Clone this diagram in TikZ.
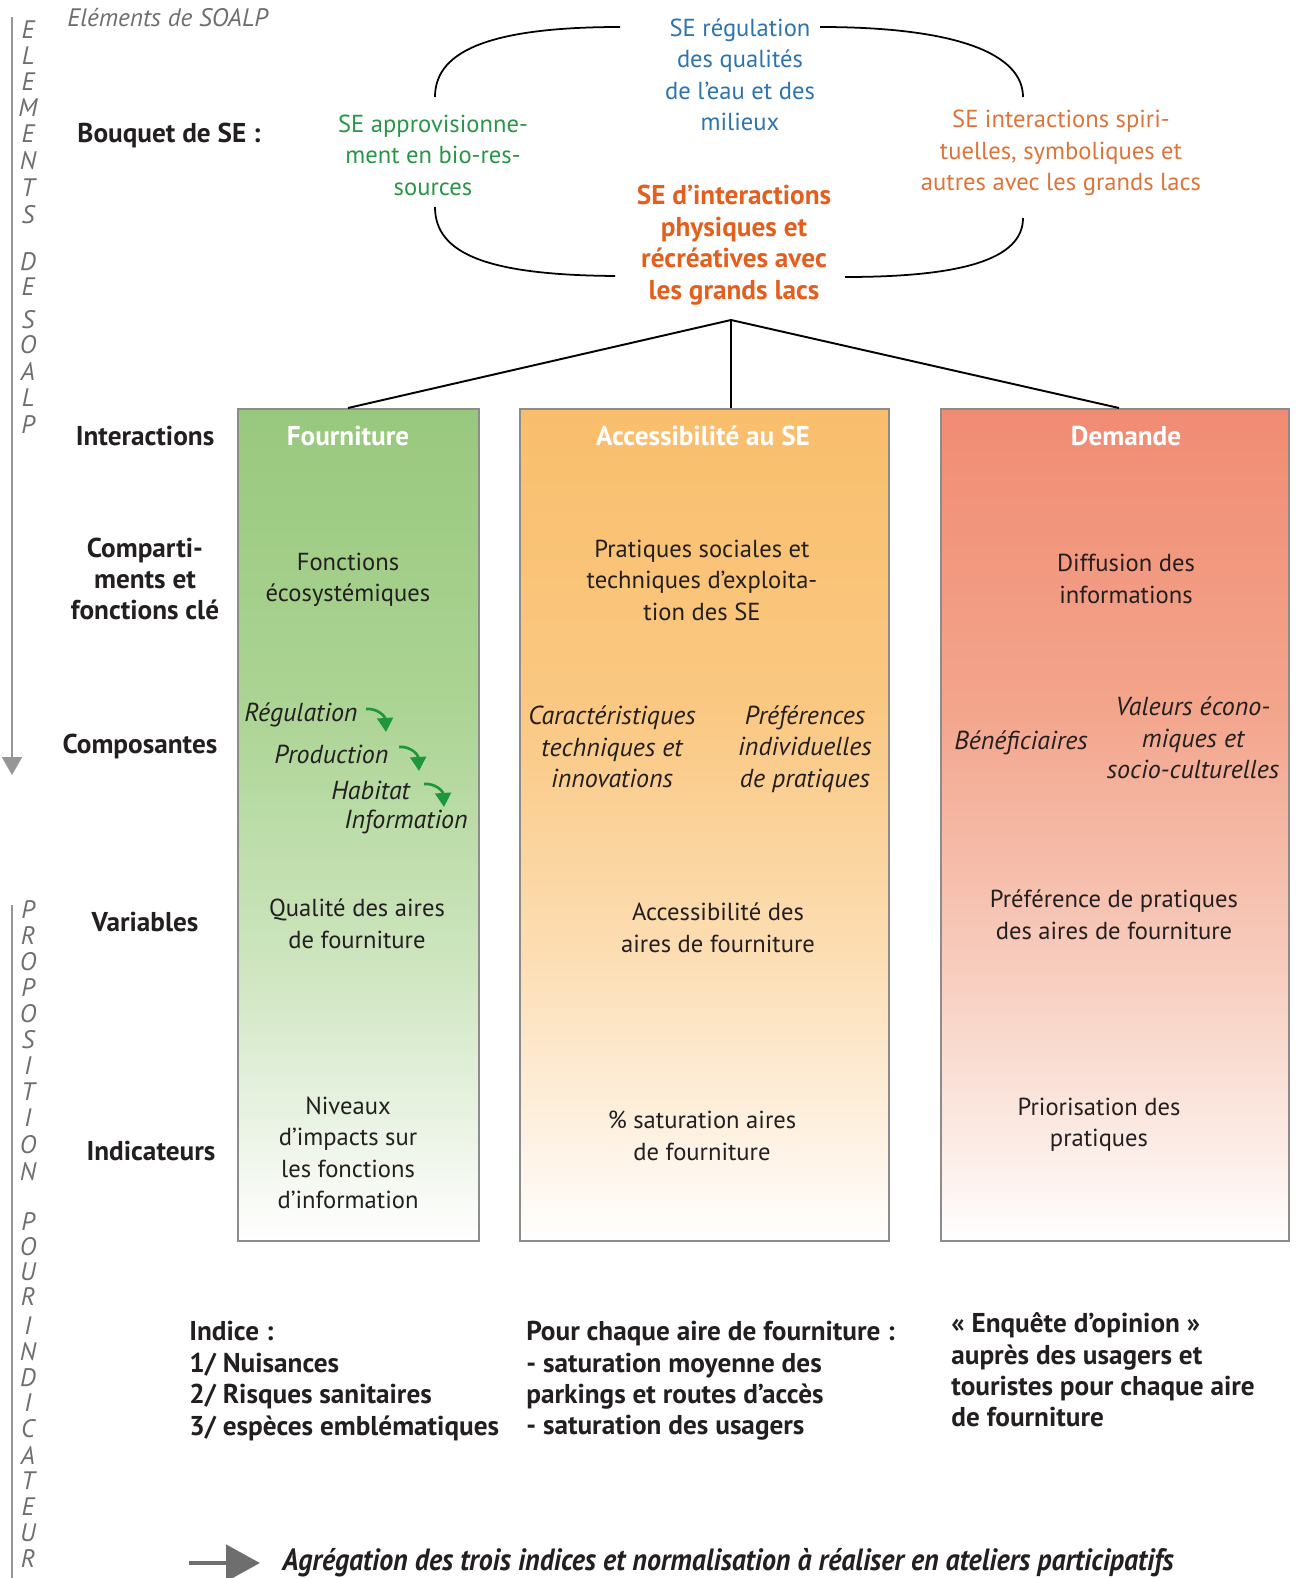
\documentclass[tikz,border=0pt]{standalone}
\usepackage{fontspec}
\setmainfont{PT Sans}
\usepackage{graphicx}
\usetikzlibrary{arrows.meta}
\definecolor{txt}{RGB}{35,31,32}
\definecolor{vgray}{RGB}{110,110,110}
\definecolor{lgray}{RGB}{150,150,150}
\definecolor{boxline}{RGB}{140,140,140}
\definecolor{segreen}{RGB}{40,150,70}
\definecolor{seblue}{RGB}{45,115,175}
\definecolor{seorange}{RGB}{222,115,55}
\definecolor{seorangeb}{RGB}{228,95,30}
\definecolor{arrgreen}{RGB}{30,150,60}
\definecolor{gA}{RGB}{152,200,125}
\definecolor{gB}{RGB}{172,212,148}
\definecolor{gC}{RGB}{205,229,190}
\definecolor{gD}{RGB}{240,246,236}
\definecolor{oA}{RGB}{249,190,108}
\definecolor{oB}{RGB}{250,200,130}
\definecolor{oC}{RGB}{252,222,180}
\definecolor{oD}{RGB}{254,244,232}
\definecolor{rA}{RGB}{240,140,115}
\definecolor{rB}{RGB}{243,165,140}
\definecolor{rC}{RGB}{247,203,188}
\definecolor{rD}{RGB}{252,238,232}
\pgfdeclareverticalshading{greensh}{100bp}{color(0bp)=(white); color(25bp)=(white); color(30bp)=(gD); color(42bp)=(gC); color(57bp)=(gB); color(75bp)=(gA); color(100bp)=(gA)}
\pgfdeclareverticalshading{orangesh}{100bp}{color(0bp)=(white); color(25bp)=(white); color(30bp)=(oD); color(42bp)=(oC); color(57bp)=(oB); color(75bp)=(oA); color(100bp)=(oA)}
\pgfdeclareverticalshading{redsh}{100bp}{color(0bp)=(white); color(25bp)=(white); color(30bp)=(rD); color(42bp)=(rC); color(57bp)=(rB); color(75bp)=(rA); color(100bp)=(rA)}
\begin{document}
\begin{tikzpicture}[x=0.02cm,y=-0.02cm,
  lbl/.style={font=\fontsize{14}{17.9}\selectfont, text=txt, align=center, inner sep=0pt},
  rowlbl/.style={font=\bfseries\fontsize{15.5}{17.9}\selectfont, text=txt, align=center, inner sep=0pt},
  hdr/.style={font=\bfseries\fontsize{15.5}{17.9}\selectfont, text=white, inner sep=0pt},
  comp/.style={font=\itshape\fontsize{14.8}{17.9}\selectfont, text=txt, align=center, inner sep=0pt},
  vlet/.style={font=\itshape\fontsize{14.4}{16}\selectfont, text=vgray, inner sep=0pt},
  colbox/.style={draw=boxline, line width=1pt, shade, minimum width=#1*0.02cm, minimum height=16.64cm, anchor=north west, inner sep=0pt},
  curve/.style={line width=1pt, draw=black},
  tree/.style={line width=1.1pt, draw=black},
  garrow/.style={draw=arrgreen, line width=1.5pt, -{Triangle[width=9pt,length=8pt]}},
  axis/.style={draw=lgray, line width=1.1pt}
]
\useasboundingbox (0,0) rectangle (1295,1578);

% left vertical axes
\coordinate (axtop) at (12,17);
\coordinate (axend) at (12,775);
\draw[axis, -{Triangle[width=0.4cm,length=0.36cm]}] (axtop) -- (axend);
\coordinate (ax2top) at (12,905);
\coordinate (ax2end) at (12,1578);
\draw[axis] (ax2top) -- (ax2end);

\foreach \l/\y in {E/30,L/56,E/82,M/108,E/134,N/161,T/188,S/215,D/262,E/287,S/320,O/345,A/372,L/398,P/425}
  \node[vlet] (va\y) at (28,\y) {\l};
\foreach \l/\y in {P/910,R/936,O/962,P/988,O/1014,S/1040,I/1066,T/1092,I/1118,O/1145,N/1172,P/1222,O/1247,U/1272,R/1297,I/1326,N/1352,D/1378,I/1403,C/1429,A/1455,T/1481,E/1507,U/1533,R/1559}
  \node[vlet] (vb\y) at (28,\y) {\l};

\node[vlet, anchor=west] (elts) at (67,18) {Eléments de SOALP};

% row labels
\node[rowlbl] (bouquet) at (169,136) {Bouquet de SE :};
\node[rowlbl] (inter) at (145,436) {Interactions};
\node[rowlbl] (compart) at (145,579) {Comparti-\\ments et\\fonctions clé};
\node[rowlbl] (compos) at (140,746) {Composantes};
\node[rowlbl] (variab) at (145,922) {Variables};
\node[rowlbl] (indic) at (151,1151) {Indicateurs};

% bouquet
\node[lbl, text=segreen] (appro) at (433,155) {SE approvisionne-\\ment en bio-res-\\sources};
\node[lbl, text=seblue] (regul) at (740,75) {SE régulation\\des qualités\\de l’eau et des\\milieux};
\node[lbl, text=seorange] (spirit) at (1061,153) {SE interactions spiri-\\tuelles, symboliques et\\autres avec les grands lacs};
\node[lbl, font=\bfseries\fontsize{15.5}{17.9}\selectfont, text=seorangeb] (physi) at (734,245) {SE d’interactions\\physiques et\\récréatives avec\\les grands lacs};

\draw[curve] (620,27) .. controls (480,27) and (435,55) .. (435,97);
\draw[curve] (435,207) .. controls (435,255) and (490,275) .. (615,276);
\draw[curve] (820,27) .. controls (960,27) and (1023,55) .. (1023,97);
\draw[curve] (1023,218) .. controls (1023,260) and (960,277) .. (845,277);

% columns
\node[colbox=241, shading=greensh] (fourn) at (237,408) {};
\node[colbox=369, shading=orangesh] (access) at (519,408) {};
\node[colbox=348, shading=redsh] (demand) at (940,408) {};

\coordinate (apex) at (731,320);
\coordinate (tl) at (348,408);
\coordinate (tm) at (731,408);
\coordinate (tr) at (1119,408);
\draw[tree] (apex) -- (tl);
\draw[tree] (apex) -- (tm);
\draw[tree] (apex) -- (tr);

\node[hdr] (hf) at (348,436) {Fourniture};
\node[hdr] (ha) at (703,436) {Accessibilité au SE};
\node[hdr] (hd) at (1126,436) {Demande};

\node[lbl] (cf) at (348,580) {Fonctions\\écosystémiques};
\node[lbl] (ca) at (702,580) {Pratiques sociales et\\techniques d’exploita-\\tion des SE};
\node[lbl] (cd) at (1126,579) {Diffusion des\\informations};

\node[comp, anchor=west] (reg) at (244,715) {Régulation};
\node[comp, anchor=west] (prod) at (274,754) {Production};
\node[comp, anchor=west] (hab) at (331,790) {Habitat};
\node[comp, anchor=west] (info) at (344,822) {Information};
\draw[garrow] (366,709) .. controls (377,708) and (385,716) .. (386,732);
\draw[garrow] (399,747) .. controls (410,746) and (418,754) .. (419,771);
\draw[garrow] (424,784) .. controls (435,783) and (443,791) .. (444,807);

\node[comp] (carac) at (612,747) {Caractéristiques\\techniques et\\innovations};
\node[comp] (pref) at (805,749) {Préférences\\individuelles\\de pratiques};
\node[comp] (benef) at (1021,743) {Bénéficiaires};
\node[comp] (valeurs) at (1193,738) {Valeurs écono-\\miques et\\socio-culturelles};

\node[lbl] (vf) at (357,924) {Qualité des aires\\de fourniture};
\node[lbl] (va) at (718,928) {Accessibilité des\\aires de fourniture};
\node[lbl] (vd) at (1114,915) {Préférence de pratiques\\des aires de fourniture};

\node[lbl] (inf) at (348,1153) {Niveaux\\d’impacts sur\\les fonctions\\d’information};
\node[lbl] (ina) at (702,1136) {\% saturation aires\\de fourniture};
\node[lbl] (ind) at (1099,1125) {Priorisation des\\pratiques};

% bottom blocks
\node[rowlbl, align=left, anchor=west] (b1) at (189,1381) {Indice :\\1/ Nuisances\\2/ Risques sanitaires\\3/ espèces emblématiques};
\node[rowlbl, align=left, anchor=west] (b2) at (526,1381) {Pour chaque aire de fourniture :\\- saturation moyenne des\\parkings et routes d’accès\\- saturation des usagers};
\node[rowlbl, align=left, anchor=west] (b3) at (951,1370) {« Enquête d’opinion »\\auprès des usagers et\\touristes pour chaque aire\\de fourniture};

\coordinate (arrs) at (189,1563);
\coordinate (arre) at (260,1563);
\draw[draw=vgray, line width=2.8pt, -{Triangle[width=0.72cm,length=0.68cm]}] (arrs) -- (arre);
\node[font=\bfseries\itshape\fontsize{17.5}{20}\selectfont, text=txt, inner sep=0pt, anchor=west] (agreg) at (282,1563) {\scalebox{0.91}[1]{Agrégation des trois indices et normalisation à réaliser en ateliers participatifs}};
\end{tikzpicture}
\end{document}
